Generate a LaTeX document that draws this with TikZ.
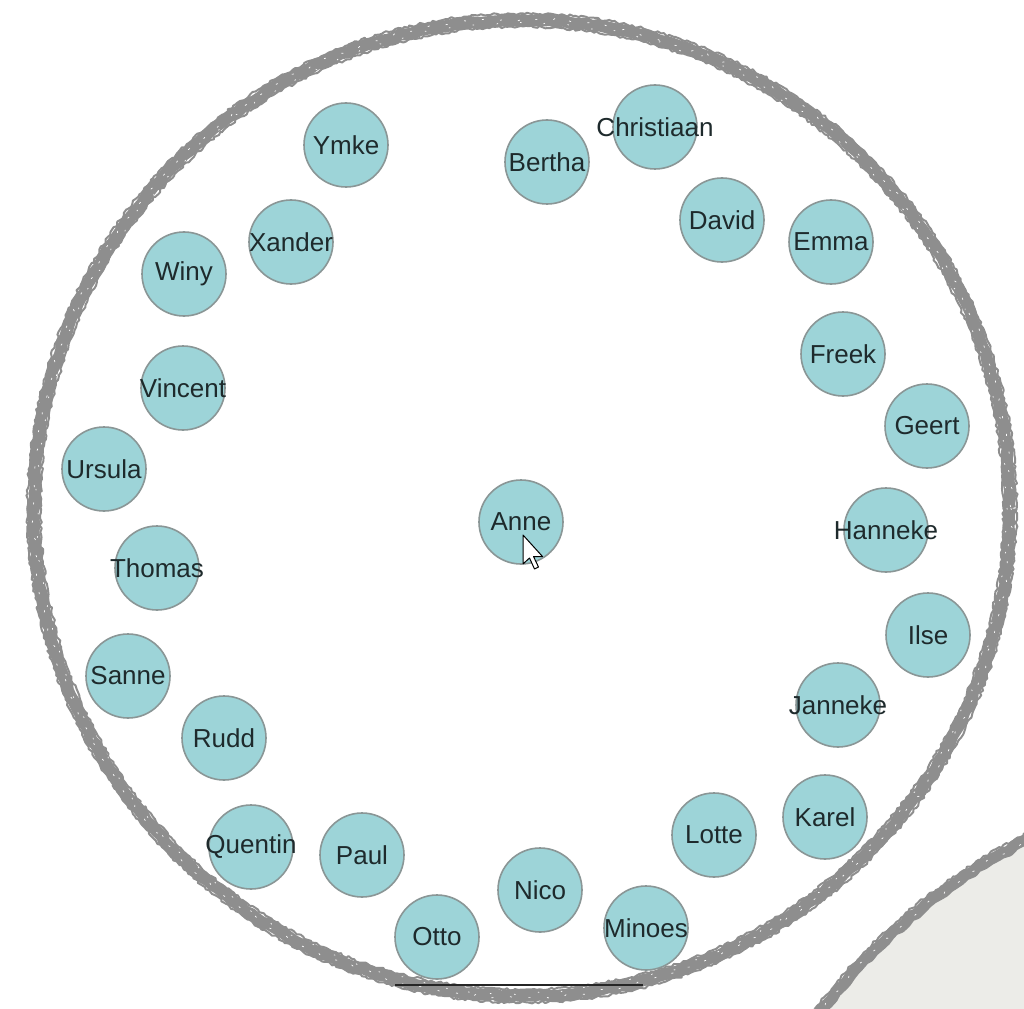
\documentclass[tikz,border=0pt]{standalone}
\usepackage{fontspec}
\setmainfont{Liberation Sans}
\usetikzlibrary{decorations.pathmorphing}
\definecolor{nodefill}{RGB}{157,212,216}
\definecolor{nodeline}{RGB}{138,150,150}
\definecolor{txt}{RGB}{30,42,44}
\definecolor{rim}{RGB}{142,142,142}
\definecolor{pad}{RGB}{236,236,232}
\tikzset{
  person/.style={circle, minimum size=84pt, inner sep=0pt, fill=nodefill, draw=nodeline, line width=1.6pt, text=txt, font=\fontsize{26}{26}\selectfont},
  rimstroke/.style={rim, line join=round, decorate, decoration={random steps, segment length=#1, amplitude=1.3pt}},
  speck/.style={white, line width=0.7pt, dash pattern=on 2pt off 17pt, decorate, decoration={random steps, segment length=5pt, amplitude=2pt}}
}
\newcommand{\nm}[1]{\makebox[0pt][c]{#1}}
\begin{document}
\begin{tikzpicture}[x=1pt,y=-1pt]
\useasboundingbox (0,0) rectangle (1024,1008);
\fill[white] (0,0) rectangle (1024,1008);
\pgfmathsetseed{7}
% second plate (bottom right)
\fill[pad] (1300,1379) circle[radius=604];
\draw[rimstroke=7pt, line width=11pt] (1300,1379) circle[radius=604];
\draw[rimstroke=3pt, line width=2pt] (1300,1379) circle[radius=610];
\draw[speck] (1300,1379) circle[radius=604];
% main plate
\draw[rimstroke=7pt, line width=12pt] (522,508) circle[radius=488];
\draw[rimstroke=3pt, line width=2pt] (522,508) circle[radius=494.5];
\draw[rimstroke=3pt, line width=2pt] (522,508) circle[radius=481.5];
\draw[speck] (522,508) circle[radius=489];
\draw[speck, dash pattern=on 1.5pt off 23pt] (522,508) circle[radius=485];
% bottom line
\coordinate (bl1) at (395,985);
\coordinate (bl2) at (643,985);
\draw[black!85, line width=2.5pt] (bl1) -- (bl2);
% people
\node[person] (anne) at (521,522) {\nm{Anne}};
\node[person] (bertha) at (547,162) {\nm{Bertha}};
\node[person] (christiaan) at (655,127) {\nm{Christiaan}};
\node[person] (david) at (722,220) {\nm{David}};
\node[person] (emma) at (831,242) {\nm{Emma}};
\node[person] (freek) at (843,354) {\nm{Freek}};
\node[person] (geert) at (927,426) {\nm{Geert}};
\node[person] (hanneke) at (886,530) {\nm{Hanneke}};
\node[person] (ilse) at (928,635) {\nm{Ilse}};
\node[person] (janneke) at (838,705) {\nm{Janneke}};
\node[person] (karel) at (825,817) {\nm{Karel}};
\node[person] (lotte) at (714,835) {\nm{Lotte}};
\node[person] (minoes) at (646,928) {\nm{Minoes}};
\node[person] (nico) at (540,890) {\nm{Nico}};
\node[person] (otto) at (437,937) {\nm{Otto}};
\node[person] (paul) at (362,855) {\nm{Paul}};
\node[person] (quentin) at (251,847) {\nm{Quentin}};
\node[person] (rudd) at (224,738) {\nm{Rudd}};
\node[person] (sanne) at (128,676) {\nm{Sanne}};
\node[person] (thomas) at (157,568) {\nm{Thomas}};
\node[person] (ursula) at (104,469) {\nm{Ursula}};
\node[person] (vincent) at (183,388) {\nm{Vincent}};
\node[person] (winy) at (184,274) {\nm{Winy}};
\node[person] (xander) at (291,242) {\nm{Xander}};
\node[person] (ymke) at (346,145) {\nm{Ymke}};
% mouse pointer
\draw[black, line width=1pt, fill=white, line join=round]
  (523,535) -- ++(0,29) -- ++(6.5,-6) -- ++(5,11) -- ++(4,-2) -- ++(-5,-10.5) -- ++(9,0) -- cycle;
\end{tikzpicture}
\end{document}
